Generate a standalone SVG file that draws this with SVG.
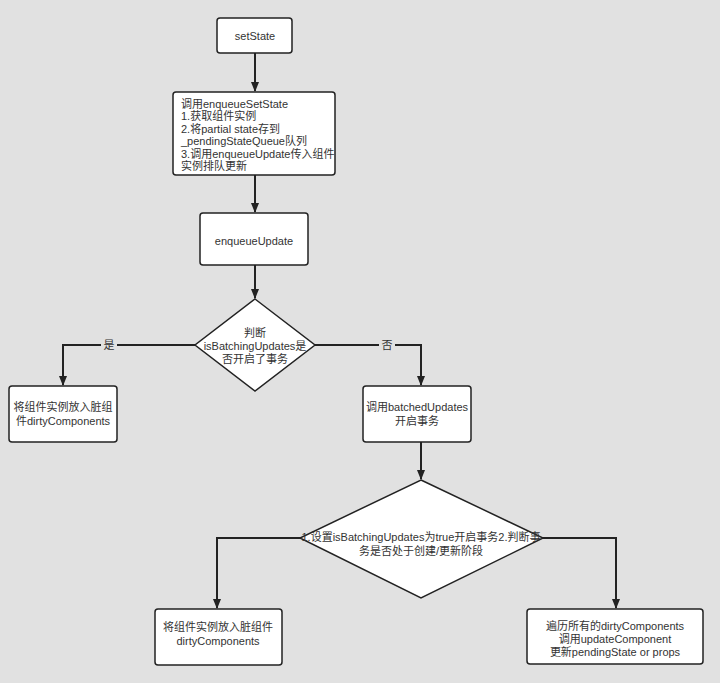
<svg xmlns="http://www.w3.org/2000/svg" width="720" height="683" viewBox="0 0 720 683">
<defs>
<marker id="arr" markerWidth="10" markerHeight="10" refX="9" refY="5" orient="auto" markerUnits="userSpaceOnUse">
<path d="M0,1 L10,5 L0,9 Z" fill="#222"/>
</marker>
<style>
.box{fill:#fff;stroke:#222;stroke-width:1.5}
.t{font-family:"Liberation Sans","Noto Sans CJK SC",sans-serif;font-size:11px;fill:#333}
.c{text-anchor:middle}
.ln{fill:none;stroke:#222;stroke-width:2}
</style>
</defs>
<rect width="720" height="683" fill="#e1e1e1"/>
<g id="connectors">
<path class="ln" d="M255,53 L255,91" marker-end="url(#arr)"/>
<path class="ln" d="M255,175 L255,212" marker-end="url(#arr)"/>
<path class="ln" d="M255,265 L255,298" marker-end="url(#arr)"/>
<path class="ln" d="M195,345 L63,345 L63,385" marker-end="url(#arr)"/>
<path class="ln" d="M315,345 L421,345 L421,385" marker-end="url(#arr)"/>
<path class="ln" d="M421,442 L421,479" marker-end="url(#arr)"/>
<path class="ln" d="M300,538 L217,538 L217,608" marker-end="url(#arr)"/>
<path class="ln" d="M543,538 L616,538 L616,608" marker-end="url(#arr)"/>
<rect x="101" y="338" width="16" height="14" fill="#e1e1e1"/>
<text class="t c" x="109" y="349">是</text>
<rect x="379" y="338" width="16" height="14" fill="#e1e1e1"/>
<text class="t c" x="387" y="349">否</text>
</g>
<g id="setState">
<rect class="box" x="217" y="18" width="75" height="35" rx="3"/>
<text class="t c" x="255" y="40">setState</text>
</g>
<g id="enqueueSetState">
<rect class="box" x="173" y="92" width="162" height="83" rx="3"/>
<text class="t" x="181" y="108">调用enqueueSetState</text>
<text class="t" x="181" y="120">1.获取组件实例</text>
<text class="t" x="181" y="133">2.将partial state存到</text>
<text class="t" x="181" y="145">_pendingStateQueue队列</text>
<text class="t" x="181" y="158">3.调用enqueueUpdate传入组件</text>
<text class="t" x="181" y="170">实例排队更新</text>
</g>
<g id="enqueueUpdate">
<rect class="box" x="200" y="213" width="108" height="52" rx="3"/>
<text class="t c" x="254" y="245">enqueueUpdate</text>
</g>
<g id="decision1">
<polygon class="box" points="255,299 315,345 255,391 195,345"/>
<text class="t c" x="255" y="337">判断</text>
<text class="t c" x="255" y="350">isBatchingUpdates是</text>
<text class="t c" x="255" y="363">否开启了事务</text>
</g>
<g id="dirtyLeft">
<rect class="box" x="9" y="386" width="108" height="56" rx="3"/>
<text class="t c" x="63" y="411">将组件实例放入脏组</text>
<text class="t c" x="63" y="425">件dirtyComponents</text>
</g>
<g id="batchedUpdates">
<rect class="box" x="363" y="386" width="108" height="56" rx="3"/>
<text class="t c" x="417" y="411">调用batchedUpdates</text>
<text class="t c" x="417" y="425">开启事务</text>
</g>
<g id="decision2">
<polygon class="box" points="421,480 543,538 421,598 300,538"/>
<text class="t c" x="421" y="541">1.设置isBatchingUpdates为true开启事务2.判断事</text>
<text class="t c" x="421" y="555">务是否处于创建/更新阶段</text>
</g>
<g id="dirtyBottom">
<rect class="box" x="155" y="609" width="127" height="56" rx="3"/>
<text class="t c" x="218" y="631">将组件实例放入脏组件</text>
<text class="t c" x="218" y="645">dirtyComponents</text>
</g>
<g id="traverse">
<rect class="box" x="527" y="609" width="176" height="55" rx="3"/>
<text class="t c" x="615" y="630">遍历所有的dirtyComponents</text>
<text class="t c" x="615" y="643">调用updateComponent</text>
<text class="t c" x="615" y="656">更新pendingState or props</text>
</g>
</svg>
